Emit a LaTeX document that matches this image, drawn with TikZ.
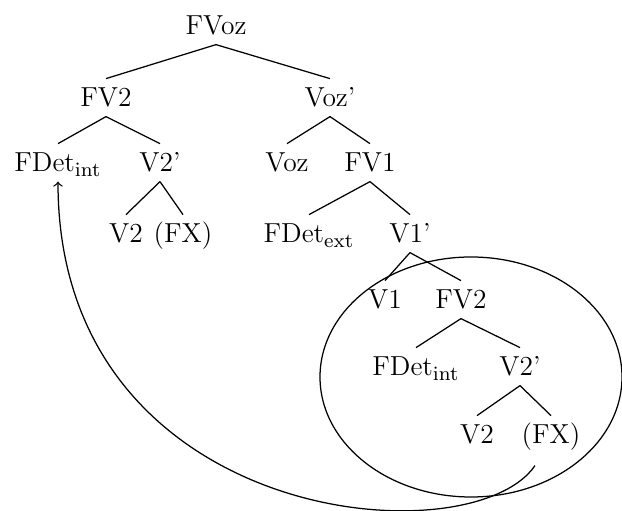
\documentclass[tikz,border=0pt]{standalone}
\begin{document}
\begin{tikzpicture}[x=0.4pt,y=-0.4pt,
  lab/.style={anchor=base,inner sep=3.6pt,text height=7.5pt,text depth=0pt,font=\fontsize{11}{13}\selectfont},
  every path/.style={line width=0.5pt}]
\useasboundingbox (0,0) rectangle (622,511);
% row 1
\node[lab] (fvoz) at (216,35) {FVoz};
% row 2
\node[lab] (fv2a) at (106,107) {FV2};
\node[lab] (vozp) at (330,107) {Voz'};
% row 3
\node[lab] (fdeta) at (58,172) {FDet$_{\mathrm{int}}$};
\node[lab] (v2pa) at (160,172) {V2'};
\node[lab] (voz) at (287,172) {Voz};
\node[lab] (fv1) at (370,172) {FV1};
% row 4
\node[lab] (v2a) at (126,243) {V2};
\node[lab] (fxa) at (183,243) {(FX)};
\node[lab] (fdetext) at (309,243) {FDet$_{\mathrm{ext}}$};
\node[lab] (v1p) at (410,243) {V1'};
% row 5
\node[lab] (v1) at (385,309) {V1};
\node[lab] (fv2b) at (461,309) {FV2};
% row 6
\node[lab] (fdetb) at (416,376) {FDet$_{\mathrm{int}}$};
\node[lab] (v2pb) at (520,376) {V2'};
% row 7
\node[lab] (v2b) at (477,444) {V2};
\node[lab] (fxb) at (551,444) {(FX)};
% branches
\draw (fvoz.south) -- (fv2a.north);
\draw (fvoz.south) -- (vozp.north);
\draw (fv2a.south) -- (fdeta.north);
\draw (fv2a.south) -- (v2pa.north);
\draw (vozp.south) -- (voz.north);
\draw (vozp.south) -- (fv1.north);
\draw (v2pa.south) -- (v2a.north);
\draw (v2pa.south) -- (fxa.north);
\draw (fv1.south) -- (fdetext.north);
\draw (fv1.south) -- (v1p.north);
\draw (v1p.south) -- (v1.north);
\draw (v1p.south) -- (fv2b.north);
\draw (fv2b.south) -- (fdetb.north);
\draw (fv2b.south) -- (v2pb.north);
\draw (v2pb.south) -- (v2b.north);
\draw (v2pb.south) -- (fxb.north);
% ellipse
\draw (471,377) ellipse [x radius=60.4pt, y radius=48pt];
% movement arrow
\draw[->] ([shift={(-16,12)}]fxb.south) .. controls (470,560) and (58,525) .. (fdeta.south);
\end{tikzpicture}
\end{document}
